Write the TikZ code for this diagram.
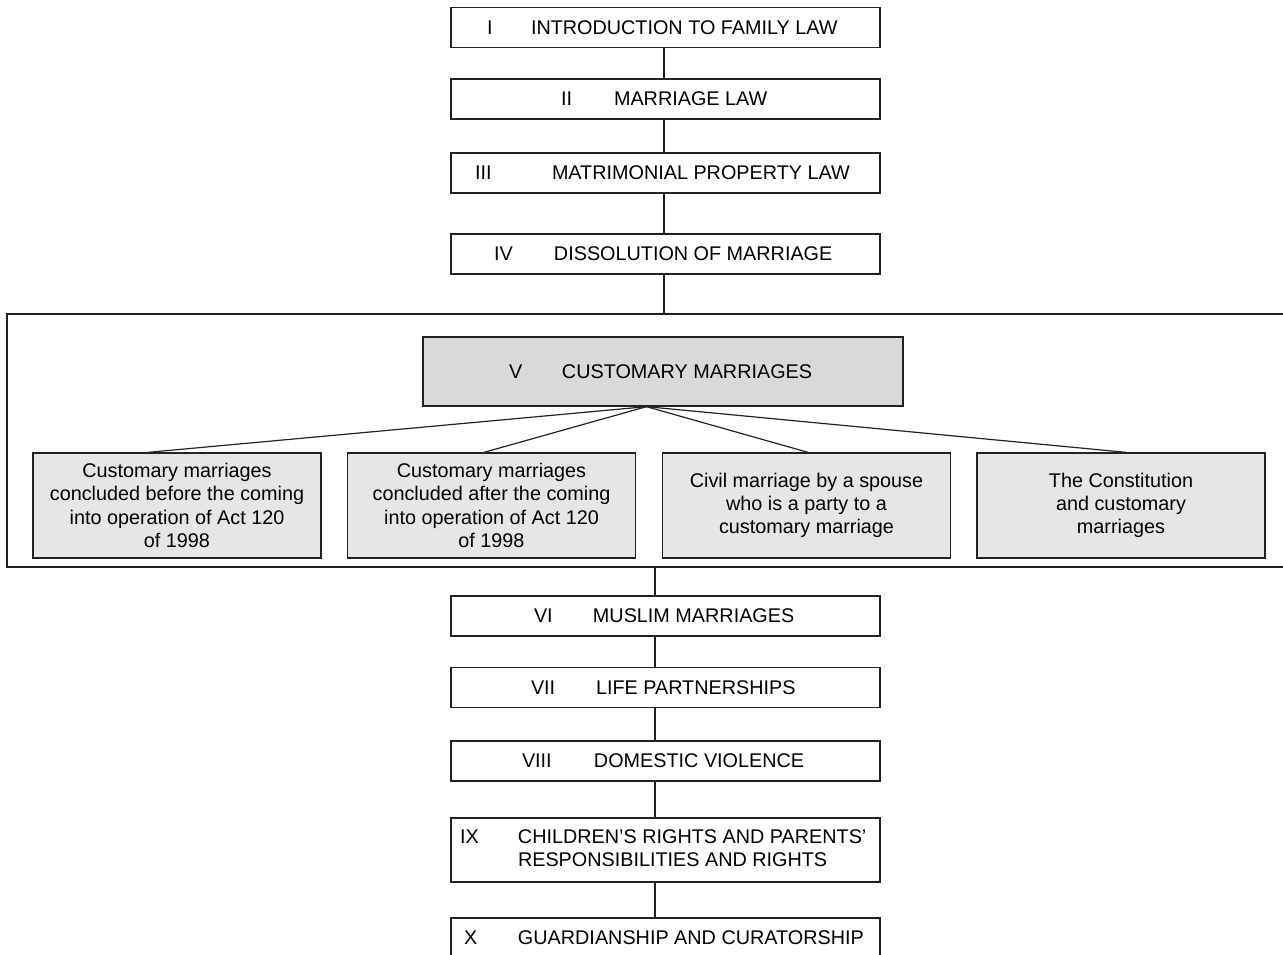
\documentclass[tikz,border=0pt]{standalone}
\usepackage{fontspec}
\setmainfont{Liberation Sans}
\usetikzlibrary{calc}

\definecolor{edge}{HTML}{222222}
\definecolor{headfill}{HTML}{D9D9D9}
\definecolor{subfill}{HTML}{E6E6E6}

% one row of a chapter box: box width, offset of the numeral, offset of the title
\newcommand\rowtext[5]{\makebox[#1pt][l]{\hspace*{#2pt}\makebox[\dimexpr #3pt-#2pt\relax][l]{#4}#5}}

\begin{document}
\begin{tikzpicture}[x=1pt,y=-1pt,
  chapter/.style={draw=edge, line width=1.3pt, fill=white, inner sep=0pt,
    minimum width=429pt, minimum height=40pt,
    font=\fontsize{19.8}{23}\selectfont},
  headbox/.style={draw=edge, line width=1.3pt, fill=headfill, inner sep=0pt,
    minimum width=480pt, minimum height=69pt,
    font=\fontsize{19.8}{23}\selectfont},
  topicbox/.style={draw=edge, line width=1.3pt, fill=subfill, inner sep=0pt,
    minimum width=288pt, minimum height=105pt, align=center,
    font=\fontsize{19.8}{23.3}\selectfont},
  groupframe/.style={draw=edge, line width=1.4pt, inner sep=0pt,
    minimum width=1293pt, minimum height=253pt},
  link/.style={draw=edge, line width=1.2pt}]

\useasboundingbox (0,0) rectangle (1283,955);
\clip (0,0) rectangle (1283,955);
\fill[white] (0,0) rectangle (1283,955);

\coordinate (upspine) at (664,0);
\coordinate (lowspine) at (655,0);

% chapters I--IV
\node[chapter] (b1) at (665.5,27.5) {\rowtext{429}{36}{80}{I}{INTRODUCTION TO FAMILY LAW}};
\node[chapter] (b2) at (665.5,99)   {\rowtext{429}{110}{163}{II}{MARRIAGE LAW}};
\node[chapter] (b3) at (665.5,173)  {\rowtext{429}{24}{101}{III}{MATRIMONIAL PROPERTY LAW}};
\node[chapter] (b4) at (665.5,254)  {\rowtext{429}{43}{103}{IV}{DISSOLUTION OF MARRIAGE}};

% chapter V with its four topics
\node[groupframe] (group) at (653.5,440.5) {};
\node[headbox] (head) at (663,371.5) {\rowtext{480}{86}{139}{V}{CUSTOMARY MARRIAGES}};

\node[topicbox] (s1) at (177,505.5)   {Customary marriages\\concluded before the coming\\into operation of Act 120\\of 1998};
\node[topicbox] (s2) at (491.5,505.5) {Customary marriages\\concluded after the coming\\into operation of Act 120\\of 1998};
\node[topicbox] (s3) at (806.5,505.5) {Civil marriage by a spouse\\who is a party to a\\customary marriage};
\node[topicbox] (s4) at (1121,505.5)  {The Constitution\\and customary\\marriages};

% chapters VI--X
\node[chapter] (b6) at (665.5,616)   {\rowtext{429}{83}{142}{VI}{MUSLIM MARRIAGES}};
\node[chapter] (b7) at (665.5,687.5) {\rowtext{429}{80}{145}{VII}{LIFE PARTNERSHIPS}};
\node[chapter] (b8) at (665.5,761)   {\rowtext{429}{71}{143}{VIII}{DOMESTIC VIOLENCE}};
\node[chapter, minimum height=64pt] (b9) at (665.5,850)
  {\makebox[429pt][l]{\hspace*{9pt}\begin{tabular}{@{}p{58pt}@{}l@{}}
    IX & CHILDREN’S RIGHTS AND PARENTS’\\
       & RESPONSIBILITIES AND RIGHTS
  \end{tabular}}};
\node[chapter] (b10) at (665.5,938) {\rowtext{429}{13}{67}{X}{GUARDIANSHIP AND CURATORSHIP}};

% spine
\draw[link] (b1.south -| upspine) -- (b2.north -| upspine);
\draw[link] (b2.south -| upspine) -- (b3.north -| upspine);
\draw[link] (b3.south -| upspine) -- (b4.north -| upspine);
\draw[link] (b4.south -| upspine) -- (group.north -| upspine);
\draw[link] (group.south -| lowspine) -- (b6.north -| lowspine);
\draw[link] (b6.south -| lowspine) -- (b7.north -| lowspine);
\draw[link] (b7.south -| lowspine) -- (b8.north -| lowspine);
\draw[link] (b8.south -| lowspine) -- (b9.north -| lowspine);
\draw[link] (b9.south -| lowspine) -- (b10.north -| lowspine);

% fan from chapter V to its topics
\coordinate (apex) at ([xshift=-16.5pt]head.south);
\draw[link] (apex) -- ([xshift=-29pt]s1.north);
\draw[link] (apex) -- ([xshift=-7.5pt]s2.north);
\draw[link] (apex) -- ([xshift=1.5pt]s3.north);
\draw[link] (apex) -- ([xshift=5pt]s4.north);
\end{tikzpicture}
\end{document}
